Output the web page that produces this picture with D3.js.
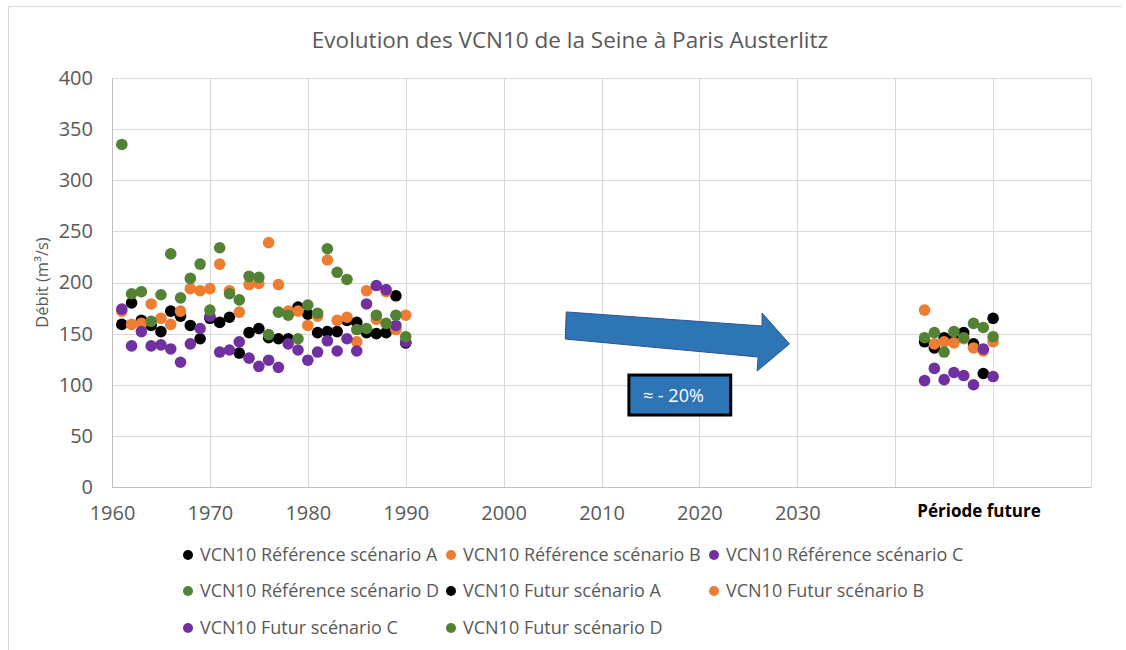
<!DOCTYPE html>
<html>
<head>
<meta charset="utf-8">
<script src="https://cdn.jsdelivr.net/npm/d3@7"></script>
<style>
  body { margin: 0; background: #fff; }
  text { font-family: "Open Sans", sans-serif; }
</style>
</head>
<body>
<div id="chart"></div>
<script>
// Data
const refYears = [1961, 1962, 1963, 1964, 1965, 1966, 1967, 1968, 1969, 1970,
  1971, 1972, 1973, 1974, 1975, 1976, 1977, 1978, 1979, 1980,
  1981, 1982, 1983, 1984, 1985, 1986, 1987, 1988, 1989, 1990];
const refA = [159, 180, 163, 158, 152, 172, 167, 158, 145, 165,
  161, 166, 131, 151, 155, 146, 145, 145, 176, 169,
  151, 152, 152, 163, 161, 151, 150, 151, 187, 141];
const refB = [172, 159, 160, 179, 165, 159, 172, 194, 192, 194,
  218, 192, 171, 198, 199, 239, 198, 172, 172, 158,
  167, 222, 163, 166, 142, 192, 164, 191, 154, 168];
const refC = [174, 138, 152, 138, 139, 135, 122, 140, 155, 167,
  132, 134, 142, 126, 118, 124, 117, 140, 134, 124,
  132, 143, 133, 145, 133, 179, 197, 193, 158, 142];
const refD = [335, 189, 191, 162, 188, 228, 185, 204, 218, 173,
  234, 189, 183, 206, 205, 149, 171, 168, 145, 178,
  170, 233, 210, 203, 154, 155, 168, 160, 168, 147];

const futYears = [2043, 2044, 2045, 2046, 2047, 2048, 2049, 2050];
const futA = [142, 136, 146, 145, 151, 140, 111, 165];
const futB = [173, 140, 142, 141, 145, 136, 133, 142];
const futC = [104, 116, 105, 112, 109, 100, 135, 108];
const futD = [146, 151, 132, 152, 146, 160, 156, 147];

const xTicks = [1960, 1970, 1980, 1990, 2000, 2010, 2020, 2030, 2040, 2050, 2060];
const xLabels = [1960, 1970, 1980, 1990, 2000, 2010, 2020, 2030];
const yTicks = [0, 50, 100, 150, 200, 250, 300, 350, 400];

const seriesNames = [
  "VCN10 Référence scénario A", "VCN10 Référence scénario B", "VCN10 Référence scénario C",
  "VCN10 Référence scénario D", "VCN10 Futur scénario A", "VCN10 Futur scénario B",
  "VCN10 Futur scénario C", "VCN10 Futur scénario D"
];
const seriesColors = ["#000000", "#ED7D31", "#7030A0", "#548235",
  "#000000", "#ED7D31", "#7030A0", "#548235"];

const series = [
  { years: refYears, values: refA }, { years: refYears, values: refB },
  { years: refYears, values: refC }, { years: refYears, values: refD },
  { years: futYears, values: futA }, { years: futYears, values: futB },
  { years: futYears, values: futC }, { years: futYears, values: futD }
];

// Dimensions
const width = 1126, height = 650;
const plot = { left: 112, right: 1091, top: 78, bottom: 487 };

const svg = d3.select("#chart").append("svg")
  .attr("width", width)
  .attr("height", height);

// chart border (left/top visible)
svg.append("path")
  .attr("d", "M8.5,660 V6.5 H1121.5")
  .attr("fill", "none")
  .attr("stroke", "#D9D9D9");

// Scales
const x = d3.scaleLinear().domain([1960, 2060]).range([plot.left, plot.right]);
const y = d3.scaleLinear().domain([0, 400]).range([plot.bottom, plot.top]);

// Title
svg.append("text")
  .attr("x", 570)
  .attr("y", 48)
  .attr("text-anchor", "middle")
  .style("font-size", "22.5px")
  .attr("fill", "#595959")
  .text("Evolution des VCN10 de la Seine à Paris Austerlitz");

// Grid
const grid = svg.append("g");
grid.selectAll(".hg")
  .data(yTicks)
  .join("line")
  .attr("x1", plot.left).attr("x2", plot.right)
  .attr("y1", d => Math.round(y(d)) + 0.5).attr("y2", d => Math.round(y(d)) + 0.5)
  .attr("stroke", "#D9D9D9");
grid.selectAll(".vg")
  .data(xTicks)
  .join("line")
  .attr("y1", plot.top).attr("y2", plot.bottom)
  .attr("x1", d => Math.round(x(d)) + 0.5).attr("x2", d => Math.round(x(d)) + 0.5)
  .attr("stroke", "#D9D9D9");

// Axes
const yAxis = d3.axisLeft(y).tickValues(yTicks).tickSize(0).tickPadding(19);
svg.append("g")
  .attr("transform", `translate(${plot.left},0)`)
  .call(yAxis)
  .call(g => g.select(".domain").attr("stroke", "#BFBFBF"))
  .selectAll("text")
  .style("font-family", "Open Sans")
  .style("font-size", "20px")
  .attr("fill", "#595959");

const xAxis = d3.axisBottom(x).tickValues(xLabels).tickFormat(d3.format("d")).tickSize(0).tickPadding(19);
svg.append("g")
  .attr("transform", `translate(0,${plot.bottom})`)
  .call(xAxis)
  .call(g => g.select(".domain").attr("stroke", "#BFBFBF"))
  .selectAll("text")
  .style("font-family", "Open Sans")
  .style("font-size", "20px")
  .attr("fill", "#595959");

svg.append("text")
  .attr("x", 979)
  .attr("y", 517)
  .attr("text-anchor", "middle")
  .style("font-size", "17px")
  .style("font-weight", "bold")
  .attr("fill", "#000")
  .text("Période future");

// Y title
svg.append("text")
  .attr("transform", `translate(48,${(plot.top + plot.bottom) / 2}) rotate(-90)`)
  .attr("text-anchor", "middle")
  .style("font-size", "16.5px")
  .attr("fill", "#595959")
  .text("Débit (m³/s)");

// Points
const dots = svg.append("g");
series.forEach((s, i) => {
  dots.append("g")
    .selectAll("circle")
    .data(s.values.map((v, j) => ({ year: s.years[j], value: v })))
    .join("circle")
    .attr("cx", d => x(d.year))
    .attr("cy", d => y(d.value))
    .attr("r", 5.8)
    .attr("fill", seriesColors[i]);
});

// Arrow annotation (data coordinates)
const arrowPts = [
  [2006.4, 171.2], [2026.4, 157.5], [2026.4, 170.2], [2029.2, 139.9],
  [2025.9, 113.5], [2026.0, 127.1], [2006.3, 144.7]
];
svg.append("path")
  .attr("d", d3.line().x(d => x(d[0])).y(d => y(d[1]))(arrowPts) + "Z")
  .attr("fill", "#2E75B6")
  .attr("stroke", "#2F528F")
  .attr("stroke-width", 1);

const box = { x0: 2012.8, x1: 2023.2, y0: 109.5, y1: 70.4 };
svg.append("rect")
  .attr("x", x(box.x0))
  .attr("y", y(box.y0))
  .attr("width", x(box.x1) - x(box.x0))
  .attr("height", y(box.y1) - y(box.y0))
  .attr("fill", "#2E75B6")
  .attr("stroke", "#000")
  .attr("stroke-width", 3);
svg.append("text")
  .attr("x", x(box.x0) + 14)
  .attr("y", y(box.y0) + 27)
  .style("font-size", "18px")
  .attr("fill", "#fff")
  .text("≈ - 20%");

// Legend
const legendCols = [188, 451, 714];
const legendRows = [555, 591, 628];
const legend = svg.append("g");
const items = legend.selectAll("g")
  .data(seriesNames)
  .join("g")
  .attr("transform", (d, i) => `translate(${legendCols[i % 3]},${legendRows[Math.floor(i / 3)]})`);
items.append("circle")
  .attr("r", 5)
  .attr("fill", (d, i) => seriesColors[i]);
items.append("text")
  .attr("x", 12)
  .attr("dy", "0.35em")
  .style("font-size", "18px")
  .attr("fill", "#595959")
  .text(d => d);
</script>
</body>
</html>
